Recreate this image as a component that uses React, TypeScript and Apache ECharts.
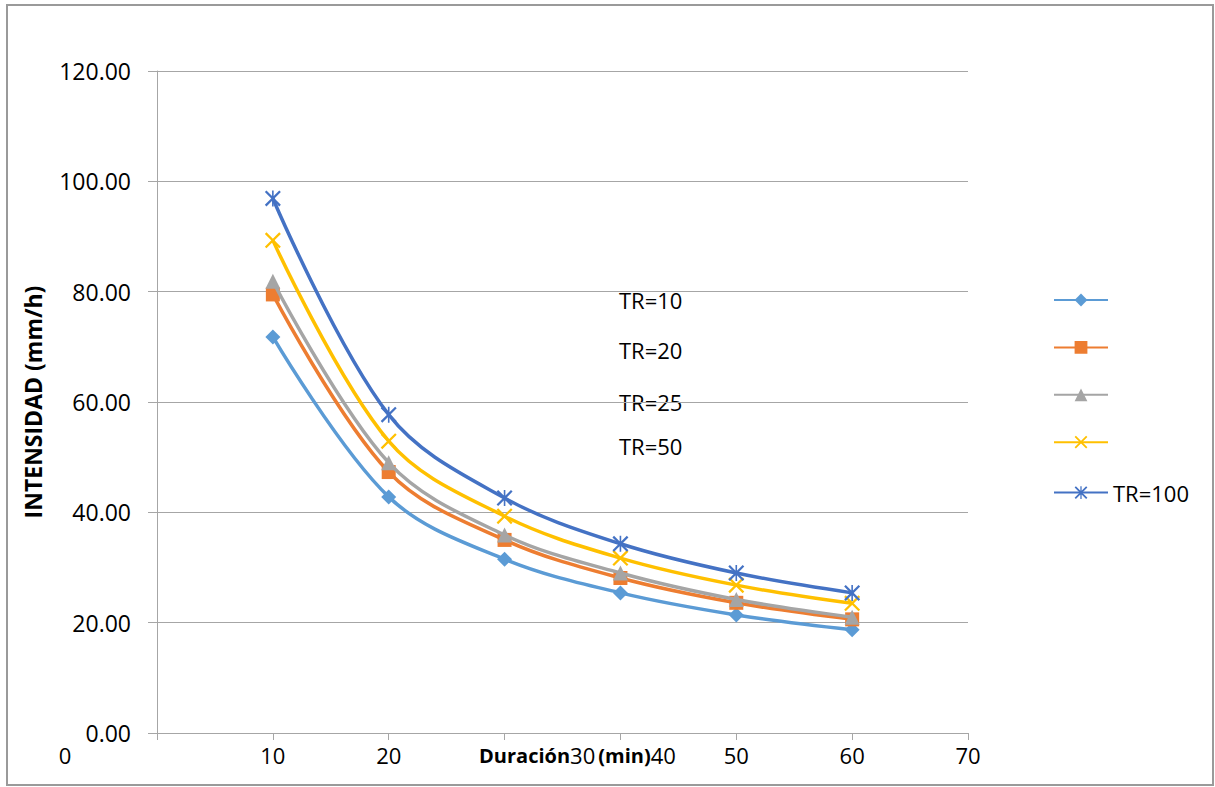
import React, { useEffect, useRef } from "react";
import * as echarts from "echarts";

const durations = [10, 20, 30, 40, 50, 60];
const tr10 = [71.8, 42.8, 31.5, 25.4, 21.4, 18.7];
const tr20 = [79.5, 47.3, 35.0, 28.1, 23.6, 20.6];
const tr25 = [81.9, 49.0, 35.9, 29.0, 24.2, 21.0];
const tr50 = [89.3, 52.9, 39.3, 31.7, 26.8, 23.5];
const tr100 = [96.9, 57.7, 42.6, 34.3, 29.0, 25.4];
const seriesNames = ["TR=10", "TR=20", "TR=25", "TR=50", "TR=100"];
const colors = ["#5B9BD5", "#ED7D31", "#A5A5A5", "#FFC000", "#4472C4"];
// tick labels that the reference draws inline with the axis title
const inlineTicks = [30, 40];

const FONT = "'Open Sans', 'Liberation Sans', sans-serif";

const xPath = "path://M0,1 L1,0 L10,9 L9,10 Z M9,0 L10,1 L1,10 L0,9 Z";
const starPath =
  "path://M0,1 L1,0 L10,9 L9,10 Z M9,0 L10,1 L1,10 L0,9 Z M4.5,0 L5.5,0 L5.5,10 L4.5,10 Z";

export default function App() {
  const ref = useRef<HTMLDivElement>(null);
  useEffect(() => {
    if (!ref.current) return;
    const chart = echarts.init(ref.current, null, { renderer: "svg" });
    const allData = [tr10, tr20, tr25, tr50, tr100];
    const symbols = ["diamond", "rect", "triangle", xPath, starPath];
    const sizes = [15, 14, 15, 16, 16];
    chart.setOption({
      animation: false,
      backgroundColor: "#fff",
      textStyle: { fontFamily: FONT },
      grid: { left: 157, right: 247, top: 71, bottom: 54, outerBoundsMode: "none", containLabel: false },
      xAxis: {
        type: "value",
        min: 0,
        max: 70,
        interval: 10,
        name: `{b|Duración}{r|${inlineTicks[0]}} {b|(min)}{r|${inlineTicks[1]}}`,
        nameLocation: "middle",
        nameGap: 22,
        nameMoveOverlap: false,
        nameTextStyle: {
          fontFamily: FONT,
          color: "#000",
          verticalAlign: "middle",
          padding: [0, 0, 0, 30],
          rich: {
            b: { fontFamily: FONT, fontSize: 20, fontWeight: "bold", color: "#000" },
            r: { fontFamily: FONT, fontSize: 22, color: "#000" },
          },
        },
        axisLine: { show: true, lineStyle: { color: "#A6A6A6", width: 1 } },
        axisTick: { show: true, length: 7, lineStyle: { color: "#A6A6A6" } },
        axisLabel: {
          margin: 11,
          fontFamily: FONT,
          fontSize: 22,
          color: "#000",
          formatter: (v: number) => (v === 0 || inlineTicks.includes(v) ? "" : String(v)),
        },
        splitLine: { show: false },
      },
      yAxis: {
        type: "value",
        min: 0,
        max: 120,
        interval: 20,
        name: "INTENSIDAD (mm/h)",
        nameLocation: "middle",
        nameGap: 113,
        nameMoveOverlap: false,
        nameTextStyle: { fontFamily: FONT, fontSize: 23, fontWeight: "bold", color: "#000" },
        axisLine: { show: true, lineStyle: { color: "#A6A6A6", width: 1 } },
        axisTick: { show: true, length: 9, lineStyle: { color: "#A6A6A6" } },
        axisLabel: {
          margin: 26,
          fontFamily: FONT,
          fontSize: 23,
          color: "#000",
          formatter: (v: number) => v.toFixed(2),
        },
        splitLine: { show: true, lineStyle: { color: "#A6A6A6", width: 1 } },
      },
      legend: {
        orient: "vertical",
        left: 1048,
        top: 287,
        itemWidth: 54,
        itemHeight: 16,
        itemGap: 33,
        data: seriesNames,
        textStyle: { fontFamily: FONT, fontSize: 22, color: "#000" },
        formatter: (n: string) => (n === "TR=100" ? n : ""),
        selectedMode: false,
      },
      series: seriesNames.map((name, i) => ({
        name,
        type: "line",
        smooth: 0.35,
        data: durations.map((d, j) => [d, allData[i][j]]),
        color: colors[i],
        symbol: symbols[i],
        symbolSize: sizes[i],
        showAllSymbol: true,
        lineStyle: { color: colors[i], width: 3.5 },
        itemStyle: { color: colors[i] },
        z: 2 + i,
      })),
      graphic: [
        {
          type: "rect",
          shape: { x: 7, y: 5, width: 1206, height: 780 },
          style: { fill: "none", stroke: "#9A9A9A", lineWidth: 2 },
          silent: true,
        },
        {
          type: "text",
          x: 65,
          y: 755,
          style: { text: "0", font: `22px ${FONT}`, fill: "#000", textAlign: "center", textVerticalAlign: "middle" },
        },
        ...["TR=10", "TR=20", "TR=25", "TR=50"].map((t, i) => ({
          type: "text",
          x: 619,
          y: [300, 350, 402, 446][i],
          style: { text: t, font: `22px ${FONT}`, fill: "#000", textAlign: "left", textVerticalAlign: "middle" },
        })),
      ],
    });
    return () => chart.dispose();
  }, []);
  return (
    <div
      ref={ref}
      style={{ position: "fixed", left: 0, top: 0, width: 1215, height: 787 }}
    />
  );
}
